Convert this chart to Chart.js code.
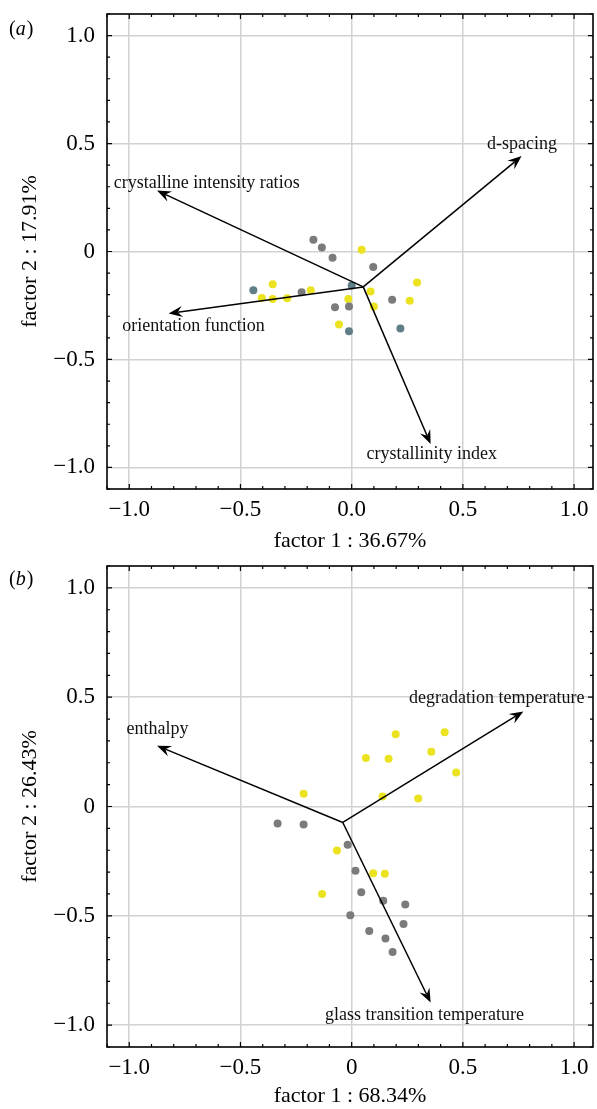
<!DOCTYPE html>
<html>
<head>
<meta charset="utf-8">
<script src="https://cdn.jsdelivr.net/npm/chart.js@4.4.1/dist/chart.umd.min.js"></script>
<style>
    html, body { margin: 0; padding: 0; background: #fff; }
    #wrap { position: relative; width: 597px; height: 1109px; overflow: hidden; }
    canvas { position: absolute; left: 0; }
    #chart-a { top: 0; }
    #chart-b { top: 550px; }
</style>
</head>
<body>
<div id="wrap">
    <canvas id="chart-a" width="597" height="554"></canvas>
    <canvas id="chart-b" width="597" height="559"></canvas>
</div>
<script>
// ---- panel (a) ----
var a_gray_x = [-0.172, -0.134, -0.086, 0.097, -0.225, 0.182, -0.075, -0.012];
var a_gray_y = [0.054, 0.018, -0.029, -0.072, -0.189, -0.223, -0.258, -0.255];
var a_teal_x = [0.000, -0.442, -0.012, 0.219];
var a_teal_y = [-0.157, -0.180, -0.369, -0.357];
var a_yellow_x = [0.045, 0.294, 0.085, -0.184, -0.015, 0.261, 0.100, -0.057, -0.355, -0.404, -0.355, -0.290];
var a_yellow_y = [0.008, -0.143, -0.185, -0.180, -0.220, -0.228, -0.255, -0.338, -0.152, -0.215, -0.220, -0.217];
var a_arrow_names = ['crystalline intensity ratios', 'd-spacing', 'orientation function', 'crystallinity index'];
var a_arrow_origin = [0.052, -0.164];
var a_arrow_x = [-0.875, 0.764, -0.823, 0.355];
var a_arrow_y = [0.282, 0.442, -0.287, -0.892];
var a_label_x = [-1.070, 0.608, -1.031, 0.067];
var a_label_y = [0.317, 0.497, -0.347, -0.938];
var a_x_title = 'factor 1 : 36.67%';
var a_y_title = 'factor 2 : 17.91%';
var a_x_tick_labels = ['\u22121.0', '\u22120.5', '0.0', '0.5', '1.0'];

// ---- panel (b) ----
var b_gray_x = [-0.333, -0.216, -0.018, 0.017, 0.043, 0.142, 0.241, -0.006, 0.233, 0.079, 0.152, 0.184];
var b_gray_y = [-0.078, -0.082, -0.175, -0.294, -0.392, -0.431, -0.448, -0.497, -0.537, -0.570, -0.604, -0.665];
var b_yellow_x = [-0.216, 0.198, 0.418, 0.064, 0.166, 0.358, 0.470, 0.139, 0.299, -0.066, 0.097, 0.149, -0.133];
var b_yellow_y = [0.058, 0.331, 0.340, 0.222, 0.218, 0.250, 0.156, 0.046, 0.037, -0.201, -0.305, -0.308, -0.400];
var b_arrow_names = ['enthalpy', 'degradation temperature', 'glass transition temperature'];
var b_arrow_origin = [-0.040, -0.073];
var b_arrow_x = [-0.875, 0.772, 0.355];
var b_arrow_y = [0.278, 0.435, -0.897];
var b_label_x = [-1.012, 0.258, -0.120];
var b_label_y = [0.351, 0.497, -0.955];
var b_x_title = 'factor 1 : 68.34%';
var b_y_title = 'factor 2 : 26.43%';
var b_x_tick_labels = ['\u22121.0', '\u22120.5', '0', '0.5', '1.0'];

// shared ticks
var tick_vals = [-1, -0.5, 0, 0.5, 1];
var y_tick_labels = ['\u22121.0', '\u22120.5', '0', '0.5', '1.0'];

var SERIF = "'Liberation Serif', 'DejaVu Serif', serif";
var GRAY = '#7b7b7b';
var TEAL = '#5f7e87';
var YELLOW = '#ebe31f';

function pts(xs, ys) {
    let out = [];
    for (let i = 0; i < xs.length; i++) {
        out.push({ x: xs[i], y: ys[i] });
    }
    return out;
}

function draw_arrow(ctx, x0, y0, x1, y1) {
    let ang = Math.atan2(y1 - y0, x1 - x0);
    let c = Math.cos(ang), s = Math.sin(ang);
    let len = 14, half = 5.5, back = 9;
    ctx.beginPath();
    ctx.moveTo(x0, y0);
    ctx.lineTo(x1 - back * c, y1 - back * s);
    ctx.stroke();
    ctx.beginPath();
    ctx.moveTo(x1, y1);
    ctx.lineTo(x1 - len * c + half * s, y1 - len * s - half * c);
    ctx.lineTo(x1 - back * c, y1 - back * s);
    ctx.lineTo(x1 - len * c - half * s, y1 - len * s + half * c);
    ctx.closePath();
    ctx.fill();
}

// frame, inward ticks, arrows and labels
function make_biplot(letter, origin, ax, ay, names, lx, ly) {
    return {
        id: 'biplot',
        afterDatasetsDraw(chart) {
            let ctx = chart.ctx;
            let xs = chart.scales.x, ys = chart.scales.y;
            let area = chart.chartArea;
            ctx.save();
            // arrows
            ctx.strokeStyle = '#000';
            ctx.fillStyle = '#000';
            ctx.lineWidth = 1.5;
            let ox = xs.getPixelForValue(origin[0]);
            let oy = ys.getPixelForValue(origin[1]);
            for (let i = 0; i < names.length; i++) {
                draw_arrow(ctx, ox, oy, xs.getPixelForValue(ax[i]), ys.getPixelForValue(ay[i]));
            }
            // labels
            ctx.font = '18px ' + SERIF;
            ctx.textAlign = 'left';
            ctx.textBaseline = 'middle';
            ctx.fillStyle = '#111';
            for (let i = 0; i < names.length; i++) {
                ctx.fillText(names[i], xs.getPixelForValue(lx[i]), ys.getPixelForValue(ly[i]));
            }
            // inward minor / major ticks
            ctx.strokeStyle = '#000';
            ctx.lineWidth = 1.2;
            ctx.beginPath();
            for (let k = -11; k <= 11; k++) {
                let v = k / 10;
                let L = (k % 5 === 0) ? 5 : 3;
                let px = xs.getPixelForValue(v);
                if (px >= area.left && px <= area.right) {
                    ctx.moveTo(px, area.bottom); ctx.lineTo(px, area.bottom - L);
                    ctx.moveTo(px, area.top); ctx.lineTo(px, area.top + L);
                }
                let py = ys.getPixelForValue(v);
                if (py >= area.top && py <= area.bottom) {
                    ctx.moveTo(area.left, py); ctx.lineTo(area.left + L, py);
                    ctx.moveTo(area.right, py); ctx.lineTo(area.right - L, py);
                }
            }
            ctx.stroke();
            // frame
            ctx.lineWidth = 1.6;
            ctx.strokeRect(area.left, area.top, area.right - area.left, area.bottom - area.top);
            // panel letter
            ctx.fillStyle = '#000';
            ctx.textBaseline = 'middle';
            ctx.font = '20px ' + SERIF;
            ctx.fillText('(', 9, 30);
            let w1 = ctx.measureText('(').width;
            ctx.font = 'italic 20px ' + SERIF;
            ctx.fillText(letter, 9 + w1, 30);
            let w2 = ctx.measureText(letter).width;
            ctx.font = '20px ' + SERIF;
            ctx.fillText(')', 9 + w1 + w2 + 1, 30);
            ctx.restore();
        }
    };
}

function make_chart(id, sets, x_labels, x_title, y_title, pad_top, x_height, plugin) {
    let ctx = document.getElementById(id);
    return new Chart(ctx, {
        type: 'scatter',
        data: { datasets: sets },
        options: {
            responsive: false,
            animation: false,
            layout: { padding: { top: pad_top, right: 3, left: 0, bottom: 0 } },
            plugins: { legend: { display: false }, tooltip: { enabled: false } },
            elements: { point: { radius: 4, borderWidth: 0 } },
            scales: {
                x: {
                    type: 'linear',
                    min: -1.1,
                    max: 1.085,
                    afterBuildTicks: (s) => { s.ticks = tick_vals.map(v => ({ value: v })); },
                    afterFit: (s) => { s.height = x_height; s.paddingLeft = 0; s.paddingRight = 0; },
                    grid: { color: '#d2d2d2', lineWidth: 1.5, drawTicks: false },
                    border: { display: false },
                    ticks: {
                        padding: 7,
                        color: '#000',
                        font: { family: SERIF, size: 23 },
                        callback: (v, i) => x_labels[i]
                    },
                    title: {
                        display: true,
                        text: x_title,
                        color: '#000',
                        font: { family: SERIF, size: 22 },
                        padding: 0
                    }
                },
                y: {
                    type: 'linear',
                    min: -1.1,
                    max: 1.1,
                    afterBuildTicks: (s) => { s.ticks = tick_vals.map(v => ({ value: v })); },
                    afterFit: (s) => { s.width = 107; s.paddingTop = 0; s.paddingBottom = 0; },
                    grid: { color: '#d2d2d2', lineWidth: 1.5, drawTicks: false },
                    border: { display: false },
                    ticks: {
                        padding: 12,
                        color: '#000',
                        font: { family: SERIF, size: 23 },
                        callback: (v, i) => y_tick_labels[i]
                    },
                    title: {
                        display: true,
                        text: y_title,
                        color: '#000',
                        font: { family: SERIF, size: 22 },
                        padding: { top: 17, bottom: 0 }
                    }
                }
            }
        },
        plugins: [plugin]
    });
}

make_chart('chart-a', [
    { label: 'gray', data: pts(a_gray_x, a_gray_y), backgroundColor: GRAY },
    { label: 'teal', data: pts(a_teal_x, a_teal_y), backgroundColor: TEAL },
    { label: 'yellow', data: pts(a_yellow_x, a_yellow_y), backgroundColor: YELLOW }
], a_x_tick_labels, a_x_title, a_y_title, 14, 65,
    make_biplot('a', a_arrow_origin, a_arrow_x, a_arrow_y, a_arrow_names, a_label_x, a_label_y));

make_chart('chart-b', [
    { label: 'gray', data: pts(b_gray_x, b_gray_y), backgroundColor: GRAY },
    { label: 'yellow', data: pts(b_yellow_x, b_yellow_y), backgroundColor: YELLOW }
], b_x_tick_labels, b_x_title, b_y_title, 16, 62,
    make_biplot('b', b_arrow_origin, b_arrow_x, b_arrow_y, b_arrow_names, b_label_x, b_label_y));
</script>
</body>
</html>
